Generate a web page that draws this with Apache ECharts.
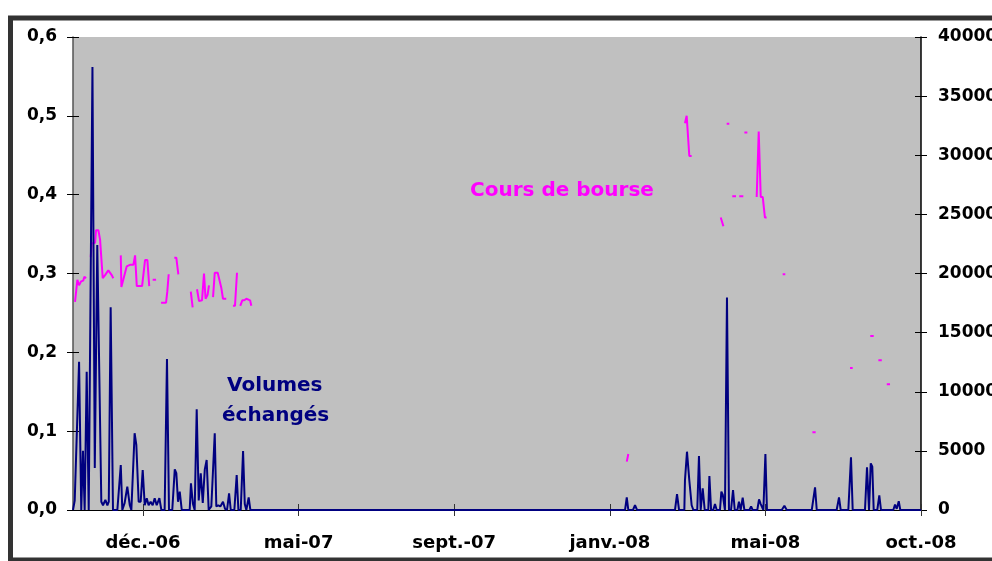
<!DOCTYPE html>
<html><head><meta charset="utf-8">
<script src="https://cdn.jsdelivr.net/npm/echarts@6/dist/echarts.min.js"></script>
<style>html,body{margin:0;padding:0;background:#fff;}#c{width:992px;height:561px;}</style>
</head><body><div id="c"></div>
<script>
// X unit: trading-day index; tick values and their labels
const tickValues = [0, 100, 200, 300, 400, 500];
const tickLabels = ['déc.-06', 'mai-07', 'sept.-07', 'janv.-08', 'mai-08', 'oct.-08'];

// Volumes échangés (right axis)
const volX = [-45,-43.9,-41.1,-39.7,-38.6,-37.5,-36.2,-34.9,-32.5,-31,-29.4,-26.8,-25.7,-24.2,-22.9,-22,-20.8,-19.3,-16.5,-14.3,-13.3,-11.8,-10.1,-8.5,-7.5,-5.4,-4.3,-2.8,-1.5,-0.2,1.1,2.4,3.6,4.9,6.2,7.5,8.8,10.5,11.8,13.9,15.4,16.7,18.8,20.4,21.4,22.5,23.6,24.9,30,30.8,32.1,33.2,34.5,35.8,37.1,38.4,39.7,40.9,42.2,43.9,46.1,47.1,48.4,49.7,51.4,52.7,54,55.3,56.4,58.7,60.2,61.3,62.8,64.3,65.4,66.4,67.9,69,
  309.8,310.9,311.9,314.9,316.2,317.5,341.9,343.2,344.5,347.9,348.3,349.6,351.1,352.6,353.7,356.2,357.3,358.4,359.7,361,363.3,364,365.1,366.5,367.6,368.7,370.8,371.7,372.6,374,375.3,376.6,377.9,379.2,380.3,382,383,384.1,385.4,386.5,389.7,390.8,391.8,394.8,395.9,397,398.7,400,401,410.5,412.2,413.7,429.8,431.9,433,445.8,447.3,448.4,453.3,455,456.1,464,465.3,466.6,467.7,468.7,469.6,471.9,473.2,474.3,482.2,483.3,484.4,485.7,486.7,500];
const volY = [0,800,12540,0,5000,0,11700,0,37470,3550,22400,700,400,850,400,700,17140,0,0,3800,0,600,1970,400,0,6490,5500,700,700,3380,400,1000,400,700,400,1000,400,1000,0,0,12770,0,0,3440,3120,700,1550,0,0,2250,500,0,8510,800,3100,600,3440,4230,0,300,6490,300,400,300,700,100,0,1410,0,0,2960,0,0,4990,500,0,1070,0,
  0,1070,0,0,420,0,0,1350,0,0,2500,4930,2500,400,0,0,4570,0,1830,0,0,2880,0,0,500,0,0,1550,1300,0,17960,0,0,1690,0,0,700,0,1040,0,0,300,0,0,900,500,0,4740,0,0,360,0,0,1920,0,0,1070,0,0,4460,0,0,3610,0,3950,3660,0,0,1240,0,0,450,100,740,0,0];

// Cours de bourse (left axis); null marks a gap in the quoted series
const priceX = [-43.7,-42.2,-41.1,-39.8,-38.4,-37.7,-36.6,null,
  -33.6,-33,-30.8,-30.2,-28.7,-27.6,-25.9,-24.4,-23.3,-22.3,-21.2,-20.1,-19.1,null,
  -14.3,-13.9,-12.7,-10.5,-8.4,-6.2,-5.1,-4,-1.9,-0.6,1.3,2.8,4,null,
  6.2,8.4,null, 11.6,14.8,15.6,16.5,null, 20.1,21.4,22.7,null, 30.7,31.9,null,
  34.7,36,37.9,39.2,40.2,41.5,42.4,null, 45,46.1,48,50.3,51.4,53.5,null,
  57.8,59.1,60.4,null, 62.5,63.8,65.1,66.4,67.5,68.8,69.6,null,
  310.9,311.9,null, 348.3,349.4,351.1,352.6,null, 371.3,373,null, 375.1,376.8,null,
  378.7,381.1,null, 383.2,385.8,null, 386.5,388.4,null,
  394.4,395.7,396.5,397,398.3,399.7,400.8,null, 411.1,412.8,null, 430.2,432.3,null,
  454.4,456.1,null, 467.4,469.6,null, 472.6,474.8,null, 478,480.1];
const priceY = [0.264,0.292,0.285,0.29,0.291,0.296,0.294,null,
  0.321,0.338,0.339,0.355,0.355,0.343,0.294,0.298,0.297,0.304,0.302,0.298,0.294,null,
  0.323,0.283,0.292,0.309,0.311,0.311,0.323,0.284,0.284,0.284,0.317,0.317,0.284,null,
  0.292,0.292,null, 0.263,0.263,0.277,0.299,null, 0.32,0.32,0.299,null, 0.277,0.257,null,
  0.28,0.265,0.266,0.30,0.268,0.273,0.285,null, 0.27,0.301,0.301,0.282,0.268,0.268,null,
  0.259,0.259,0.301,null, 0.259,0.266,0.266,0.268,0.266,0.266,0.259,null,
  0.0613,0.071,null, 0.4905,0.5,0.449,0.449,null, 0.371,0.36,null, 0.49,0.49,null,
  0.398,0.398,null, 0.398,0.398,null, 0.479,0.479,null,
  0.397,0.48,0.48,0.397,0.397,0.371,0.371,null, 0.299,0.299,null, 0.0985,0.0985,null,
  0.18,0.18,null, 0.2207,0.2207,null, 0.19,0.19,null, 0.1594,0.1594];

const volData = volX.map((x, i) => [x, volY[i]]);
const priceData = priceX.map((x, i) => x === null ? ['-', '-'] : [x, priceY[i]]);

const FONT = 'DejaVu Sans';
const lbl = {color: '#000', fontFamily: FONT, fontWeight: 'bold', fontSize: 17};

const chart = echarts.init(document.getElementById('c'), null, {renderer: 'canvas'});
chart.setOption({
  animation: false,
  backgroundColor: '#fff',
  grid: {left: 73, right: 71, top: 37, bottom: 51, show: true, backgroundColor: '#C0C0C0', borderWidth: 0,
         containLabel: false, outerBoundsMode: 'none'},
  xAxis: [{
    type: 'value', min: -45, max: 500, position: 'bottom',
    splitLine: {show: false},
    axisLine: {show: true, onZero: false, lineStyle: {color: '#000', width: 1}},
    axisTick: {show: true, length: 6, customValues: tickValues, lineStyle: {color: '#333'}},
    axisLabel: {customValues: tickValues, margin: 24, fontFamily: FONT, fontWeight: 'bold', fontSize: 18, color: '#000',
      formatter: v => tickLabels[tickValues.indexOf(Math.round(v))] || ''}
  }, {
    type: 'value', min: -45, max: 500, position: 'bottom',
    splitLine: {show: false}, axisLine: {show: false, onZero: false},
    axisTick: {show: true, inside: true, length: 6, customValues: tickValues, lineStyle: {color: '#333'}},
    axisLabel: {show: false}
  }],
  yAxis: [{
    type: 'value', min: 0, max: 0.6, interval: 0.1, position: 'left',
    splitLine: {show: false},
    axisLine: {show: true, onZero: false, lineStyle: {color: '#555', width: 1.5}},
    axisTick: {show: true, length: 6, lineStyle: {color: '#000'}},
    axisLabel: Object.assign({margin: 16, formatter: v => v.toFixed(1).replace('.', ',')}, lbl)
  }, {
    type: 'value', min: 0, max: 40000, interval: 5000, position: 'right',
    splitLine: {show: false},
    axisLine: {show: true, onZero: false, lineStyle: {color: '#000', width: 1.5}},
    axisTick: {show: true, length: 6, lineStyle: {color: '#000'}},
    axisLabel: Object.assign({margin: 17, formatter: v => String(v)}, lbl)
  }, {
    type: 'value', min: 0, max: 0.6, interval: 0.1, position: 'left',
    splitLine: {show: false}, axisLine: {show: false, onZero: false},
    axisTick: {show: true, inside: true, length: 6, lineStyle: {color: '#000'}},
    axisLabel: {show: false}
  }, {
    type: 'value', min: 0, max: 40000, interval: 5000, position: 'right',
    splitLine: {show: false}, axisLine: {show: false, onZero: false},
    axisTick: {show: true, inside: true, length: 6, lineStyle: {color: '#000'}},
    axisLabel: {show: false}
  }],
  series: [{
    name: 'Cours de bourse', type: 'line', xAxisIndex: 0, yAxisIndex: 0,
    data: priceData, showSymbol: false, connectNulls: false,
    lineStyle: {color: '#FF00FF', width: 2}, itemStyle: {color: '#FF00FF'}
  }, {
    name: 'Volumes échangés', type: 'line', xAxisIndex: 0, yAxisIndex: 1,
    data: volData, showSymbol: false,
    lineStyle: {color: '#000080', width: 2}, itemStyle: {color: '#000080'}
  }],
  graphic: [
    {type: 'rect', silent: true, shape: {x: 10.5, y: 18, width: 1000, height: 542},
     style: {fill: null, stroke: '#333', lineWidth: 5}},
    {type: 'text', left: 470, top: 181, style: {text: 'Cours de bourse', fill: '#FF00FF', font: 'bold 20px "DejaVu Sans"'}},
    {type: 'text', left: 227, top: 376, style: {text: 'Volumes', fill: '#000080', font: 'bold 20px "DejaVu Sans"'}},
    {type: 'text', left: 222, top: 406, style: {text: 'échangés', fill: '#000080', font: 'bold 20px "DejaVu Sans"'}}
  ]
});
</script></body></html>
